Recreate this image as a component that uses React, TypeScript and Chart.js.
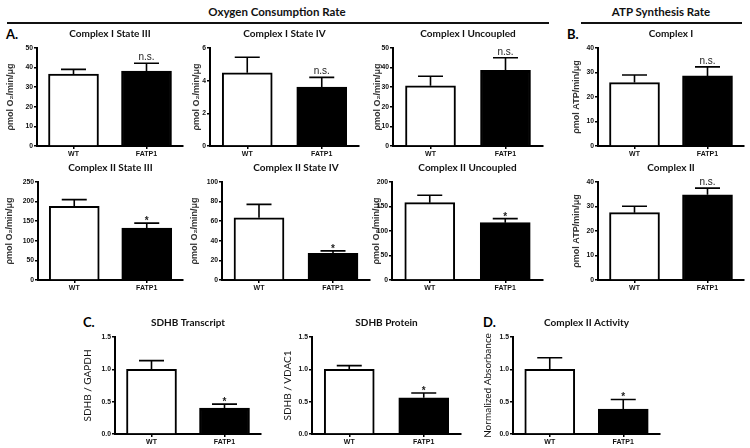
import React, { useEffect, useRef } from "react";
import { Chart, registerables } from "chart.js";

Chart.register(...registerables);

// ---------------- DATA ----------------
const categories = ["WT", "FATP1"];

const panelTitles = [
  "Complex I State III",
  "Complex I State IV",
  "Complex I Uncoupled",
  "Complex I",
  "Complex II State III",
  "Complex II State IV",
  "Complex II Uncoupled",
  "Complex II",
  "SDHB Transcript",
  "SDHB Protein",
  "Complex II Activity",
];

const yTitles = [
  "ρmol O₂/min/μg",
  "ρmol O₂/min/μg",
  "ρmol O₂/min/μg",
  "ρmol ATP/min/μg",
  "ρmol O₂/min/μg",
  "ρmol O₂/min/μg",
  "ρmol O₂/min/μg",
  "ρmol ATP/min/μg",
  "SDHB / GAPDH",
  "SDHB / VDAC1",
  "Normalized Absorbance",
];

// means and SEM per panel (WT, FATP1)
const c1State3Mean = [36.7, 38.2];
const c1State3Err = [2.4, 4.0];
const c1State4Mean = [4.48, 3.6];
const c1State4Err = [0.95, 0.6];
const c1UncoupledMean = [30.7, 38.6];
const c1UncoupledErr = [4.9, 6.4];
const atpC1Mean = [25.9, 28.6];
const atpC1Err = [3.1, 3.7];
const c2State3Mean = [188, 132.4];
const c2State3Err = [17, 12.8];
const c2State4Mean = [63.5, 27.3];
const c2State4Err = [13.7, 2.4];
const c2UncoupledMean = [157.9, 117];
const c2UncoupledErr = [15, 8.2];
const atpC2Mean = [27.5, 34.8];
const atpC2Err = [2.6, 2.7];
const sdhbTranscriptMean = [1.0, 0.4];
const sdhbTranscriptErr = [0.135, 0.062];
const sdhbProteinMean = [1.0, 0.561];
const sdhbProteinErr = [0.057, 0.072];
const c2ActivityMean = [1.0, 0.384];
const c2ActivityErr = [0.18, 0.15];

const panelMeans = [
  c1State3Mean, c1State4Mean, c1UncoupledMean, atpC1Mean,
  c2State3Mean, c2State4Mean, c2UncoupledMean, atpC2Mean,
  sdhbTranscriptMean, sdhbProteinMean, c2ActivityMean,
];
const panelErrs = [
  c1State3Err, c1State4Err, c1UncoupledErr, atpC1Err,
  c2State3Err, c2State4Err, c2UncoupledErr, atpC2Err,
  sdhbTranscriptErr, sdhbProteinErr, c2ActivityErr,
];

const sigLabels = ["n.s.", "n.s.", "n.s.", "n.s.", "*", "*", "*", "n.s.", "*", "*", "*"];
const yMax = [50, 6, 50, 40, 250, 100, 200, 40, 1.5, 1.5, 1.5];
const yStep = [10, 2, 10, 10, 50, 20, 50, 10, 0.5, 0.5, 0.5];
const yDecimals = [0, 0, 0, 0, 0, 0, 0, 0, 1, 1, 1];

// ---------------- LAYOUT ----------------
// axisX: y-axis line, xEnd: end of x-axis, top/bottom: plot area, labelX: y-title centre
const layout = [
  { axisX: 37, xEnd: 183, top: 48, bottom: 146, labelX: 10 },
  { axisX: 210, xEnd: 359, top: 48, bottom: 146, labelX: 196 },
  { axisX: 393, xEnd: 543, top: 48, bottom: 146, labelX: 377 },
  { axisX: 598, xEnd: 744, top: 48, bottom: 146, labelX: 576 },
  { axisX: 38, xEnd: 183, top: 182, bottom: 280, labelX: 9 },
  { axisX: 222, xEnd: 370, top: 182, bottom: 280, labelX: 194 },
  { axisX: 392, xEnd: 543, top: 182, bottom: 280, labelX: 376 },
  { axisX: 598, xEnd: 744, top: 182, bottom: 280, labelX: 576 },
  { axisX: 115, xEnd: 261, top: 337, bottom: 434, labelX: 88 },
  { axisX: 312, xEnd: 461, top: 337, bottom: 434, labelX: 288 },
  { axisX: 513, xEnd: 660, top: 337, bottom: 434, labelX: 488 },
];

const PAD_TOP = 22;
const PAD_RIGHT = 3;
const X_H = 16;

const yTickFont = { family: "'Liberation Sans', Arial, sans-serif", size: 6.8, weight: "bold" as const };
const xTickFont = { family: "'Liberation Sans', Arial, sans-serif", size: 7, weight: "bold" as const };
const titleFontCss = "bold 10px Lato, 'Open Sans', sans-serif";

const decorPlugin = {
  id: "decor",
  afterDatasetsDraw(chart: any, _args: any, opts: any) {
    const { ctx, chartArea } = chart;
    const yScale = chart.scales.y;
    const meta = chart.getDatasetMeta(0);
    const means: number[] = opts.means;
    const errs: number[] = opts.errs;
    ctx.save();
    ctx.strokeStyle = "#000";
    ctx.lineWidth = 1.6;
    meta.data.forEach((el: any, i: number) => {
      const x = el.x;
      const yBar = yScale.getPixelForValue(means[i]);
      const yErr = yScale.getPixelForValue(means[i] + errs[i]);
      ctx.beginPath();
      ctx.moveTo(x, yBar);
      ctx.lineTo(x, yErr);
      ctx.moveTo(x - 12.5, yErr);
      ctx.lineTo(x + 12.5, yErr);
      ctx.stroke();
      if (i === 1 && opts.sig) {
        ctx.fillStyle = "#222";
        ctx.textAlign = "center";
        ctx.textBaseline = "alphabetic";
        if (opts.sig === "*") {
          ctx.font = "bold 10px 'Liberation Sans', Arial, sans-serif";
          ctx.fillText("*", x, yErr + 1);
        } else {
          ctx.font = "10px 'Liberation Sans', Arial, sans-serif";
          ctx.fillText(opts.sig, x, yErr - 3);
        }
      }
    });
    // panel title
    ctx.fillStyle = "#111";
    ctx.font = titleFontCss;
    ctx.textAlign = "center";
    ctx.textBaseline = "middle";
    ctx.fillText(opts.title, (chartArea.left + chartArea.right) / 2, chartArea.top - 14);
    ctx.restore();
  },
};

function Panel({ i }: { i: number }) {
  const ref = useRef<HTMLCanvasElement>(null);
  const L = layout[i];
  const isRow3 = i >= 8;
  const yTitleSize = isRow3 ? 10 : 9;
  const yTitleLH = yTitleSize * 1.2;
  const left = Math.round(L.labelX - yTitleLH / 2);
  const top = L.top - PAD_TOP;
  const width = L.xEnd - left + PAD_RIGHT;
  const height = L.bottom - top + X_H;
  const yW = L.axisX - left;

  useEffect(() => {
    const chart = new Chart(ref.current as HTMLCanvasElement, {
      type: "bar",
      data: {
        labels: categories,
        datasets: [
          {
            data: panelMeans[i],
            backgroundColor: ["#ffffff", "#000000"],
            borderColor: "#000",
            borderWidth: 2,
            barThickness: 50,
          },
        ],
      },
      options: {
        responsive: false,
        animation: false,
        devicePixelRatio: 1,
        layout: { padding: { top: PAD_TOP, right: PAD_RIGHT, left: 0, bottom: 0 } },
        plugins: {
          legend: { display: false },
          tooltip: { enabled: false },
          title: { display: false },
          decor: { means: panelMeans[i], errs: panelErrs[i], sig: sigLabels[i], title: panelTitles[i] },
        } as any,
        scales: {
          x: {
            type: "category",
            offset: true,
            grid: { drawOnChartArea: false, drawTicks: true, tickLength: 3, color: "#000", lineWidth: 1.5, offset: false },
            border: { display: true, color: "#000", width: 2 },
            ticks: { font: xTickFont, color: "#111", padding: 1, maxRotation: 0 },
            afterFit: (s: any) => {
              s.height = X_H;
            },
          },
          y: {
            min: 0,
            max: yMax[i],
            grid: { drawOnChartArea: false, drawTicks: true, tickLength: 3, color: "#000", lineWidth: 1.5 },
            border: { display: true, color: "#000", width: 2 },
            ticks: {
              stepSize: yStep[i],
              font: yTickFont,
              color: "#111",
              padding: 1,
              callback: (v: any) => Number(v).toFixed(yDecimals[i]),
            },
            title: {
              display: true,
              text: yTitles[i],
              padding: 0,
              color: isRow3 ? "#111" : "#333",
              font: isRow3
                ? { family: "Lato, 'Open Sans', sans-serif", size: yTitleSize, weight: "normal", lineHeight: 1.2 }
                : { family: "'Liberation Sans', Arial, sans-serif", size: yTitleSize, weight: "bold", lineHeight: 1.2 },
            },
            afterFit: (s: any) => {
              s.width = yW;
            },
          },
        },
      },
      plugins: [decorPlugin],
    } as any);
    return () => chart.destroy();
  }, []);

  return (
    <canvas
      ref={ref}
      width={width}
      height={height}
      style={{ position: "absolute", left, top, width, height }}
    />
  );
}

const headerStyle: React.CSSProperties = {
  position: "absolute",
  fontFamily: "Lato, 'Open Sans', sans-serif",
  fontWeight: 700,
  fontSize: 11.5,
  color: "#111",
  textAlign: "center",
  lineHeight: "16px",
  height: 16,
  whiteSpace: "nowrap",
};

const letterStyle: React.CSSProperties = {
  position: "absolute",
  fontFamily: "Lato, 'Open Sans', sans-serif",
  fontWeight: 700,
  fontSize: 13,
  color: "#000",
  lineHeight: "16px",
  height: 16,
};

export default function App() {
  return (
    <div
      style={{
        position: "fixed",
        left: 0,
        top: 0,
        width: 750,
        height: 448,
        background: "#fff",
        overflow: "hidden",
      }}
    >
      <div style={{ ...headerStyle, left: 177, width: 200, top: 4 }}>Oxygen Consumption Rate</div>
      <div style={{ ...headerStyle, left: 561, width: 200, top: 4 }}>ATP Synthesis Rate</div>
      <div style={{ position: "absolute", left: 7, width: 542, top: 22, height: 1.5, background: "#111" }} />
      <div style={{ position: "absolute", left: 581, width: 161, top: 22, height: 1.5, background: "#111" }} />
      <div style={{ ...letterStyle, left: 6, top: 26 }}>A.</div>
      <div style={{ ...letterStyle, left: 567, top: 26 }}>B.</div>
      <div style={{ ...letterStyle, left: 83, top: 314 }}>C.</div>
      <div style={{ ...letterStyle, left: 483, top: 314 }}>D.</div>
      {panelTitles.map((_, i) => (
        <Panel key={i} i={i} />
      ))}
    </div>
  );
}
